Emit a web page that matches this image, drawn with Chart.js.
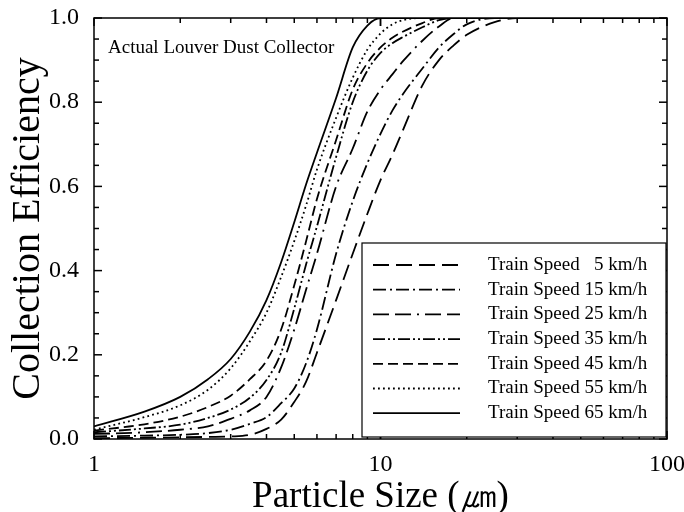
<!DOCTYPE html>
<html>
<head>
<meta charset="utf-8">
<script src="https://cdn.jsdelivr.net/npm/chart.js@4.4.1/dist/chart.umd.min.js"></script>
<style>
    body { margin: 0; background: #fff; }
    #grafico { display: block; }
</style>
</head>
<body>
<canvas id="grafico" width="684" height="512"></canvas>
<script>
// Tamanho de partícula (µm) - eixo x
const tamanhos = [1, 1.5, 2, 2.5, 3, 3.5, 4, 4.5, 5, 5.5, 6, 7, 8, 9, 10, 11, 12, 14, 16, 18, 20, 25, 30, 100];

// Eficiência de coleta por velocidade do trem
const velocidade5  = [0.002, 0.003, 0.004, 0.005, 0.006, 0.010, 0.024, 0.046, 0.088, 0.136, 0.205, 0.330, 0.440, 0.535, 0.615, 0.675, 0.735, 0.840, 0.900, 0.935, 0.960, 0.990, 1, 1];
const velocidade15 = [0.006, 0.008, 0.010, 0.014, 0.022, 0.036, 0.052, 0.085, 0.120, 0.180, 0.260, 0.440, 0.565, 0.655, 0.725, 0.780, 0.820, 0.880, 0.930, 0.962, 0.985, 1, 1, 1];
const velocidade25 = [0.012, 0.016, 0.022, 0.030, 0.048, 0.068, 0.100, 0.170, 0.260, 0.355, 0.440, 0.600, 0.690, 0.778, 0.830, 0.866, 0.898, 0.946, 0.980, 1, 1, 1, 1, 1];
const velocidade35 = [0.016, 0.025, 0.034, 0.050, 0.070, 0.098, 0.140, 0.205, 0.310, 0.415, 0.505, 0.670, 0.800, 0.875, 0.917, 0.940, 0.955, 0.978, 0.995, 1, 1, 1, 1, 1];
const velocidade45 = [0.020, 0.035, 0.053, 0.076, 0.103, 0.142, 0.186, 0.260, 0.365, 0.470, 0.570, 0.710, 0.830, 0.893, 0.930, 0.953, 0.968, 0.988, 1, 1, 1, 1, 1, 1];
const velocidade55 = [0.022, 0.052, 0.080, 0.117, 0.168, 0.232, 0.300, 0.385, 0.470, 0.555, 0.640, 0.763, 0.858, 0.925, 0.963, 0.985, 0.995, 1, 1, 1, 1, 1, 1, 1];
const velocidade65 = [0.030, 0.065, 0.100, 0.142, 0.190, 0.255, 0.330, 0.420, 0.515, 0.605, 0.680, 0.810, 0.930, 0.982, 1, 1, 1, 1, 1, 1, 1, 1, 1, 1];

const legendas = [
    'Train Speed   5 km/h',
    'Train Speed 15 km/h',
    'Train Speed 25 km/h',
    'Train Speed 35 km/h',
    'Train Speed 45 km/h',
    'Train Speed 55 km/h',
    'Train Speed 65 km/h'
];
const tracos = [[16, 7], [13, 4, 2, 4], [16, 6, 16, 6, 2, 6], [12, 3, 2, 3, 2, 3], [10, 5], [1.8, 3.2], []];

const rotulosX = [1, 10, 100];
const rotulosY = [0.0, 0.2, 0.4, 0.6, 0.8, 1.0];
const anotacao = 'Actual Louver Dust Collector';

const fonte = '"Liberation Serif", "Times New Roman", serif';

const series = [velocidade5, velocidade15, velocidade25, velocidade35, velocidade45, velocidade55, velocidade65];

const dados = {
    datasets: series.map((valores, i) => ({
        label: legendas[i],
        data: tamanhos.map((t, j) => ({ x: t, y: valores[j] })),
        borderColor: '#000',
        borderWidth: 1.8,
        borderDash: tracos[i],
        pointRadius: 0,
        fill: false,
        cubicInterpolationMode: 'monotone'
    }))
};

// moldura com marcas internas, legenda e texto
const moldura = {
    id: 'moldura',
    afterDraw(chart) {
        const { ctx, chartArea: a, scales: { x, y } } = chart;
        const linha = (x1, y1, x2, y2) => {
            ctx.beginPath(); ctx.moveTo(x1, y1); ctx.lineTo(x2, y2); ctx.stroke();
        };
        ctx.save();
        ctx.strokeStyle = '#000';
        ctx.lineWidth = 1.5;
        ctx.setLineDash([]);
        ctx.strokeRect(a.left, a.top, a.right - a.left, a.bottom - a.top);

        for (let k = 0; k <= 20; k++) {
            const py = y.getPixelForValue(k * 0.05);
            const len = k % 4 === 0 ? 8 : 5;
            linha(a.left, py, a.left + len, py);
            linha(a.right, py, a.right - len, py);
        }
        for (const dec of [1, 10]) {
            for (let k = 1; k <= 10; k++) {
                const px = x.getPixelForValue(dec * k);
                const len = (k === 1 || k === 10) ? 8 : 5;
                linha(px, a.bottom, px, a.bottom - len);
                linha(px, a.top, px, a.top + len);
            }
        }

        // legenda dentro do gráfico
        const bx = 362, by = 243, bw = 304, bh = 194;
        ctx.fillStyle = '#fff';
        ctx.fillRect(bx, by, bw, bh);
        ctx.lineWidth = 1.2;
        ctx.strokeRect(bx, by, bw, bh);
        ctx.font = '19px ' + fonte;
        ctx.fillStyle = '#000';
        ctx.textBaseline = 'middle';
        chart.data.datasets.forEach((ds, i) => {
            const ly = 265 + i * 24.7;
            ctx.lineWidth = 1.8;
            ctx.setLineDash(ds.borderDash);
            linha(373, ly, 460, ly);
            ctx.setLineDash([]);
            ctx.fillText(ds.label, 488, ly);
        });

        ctx.textBaseline = 'alphabetic';
        ctx.fillText(anotacao, 108, 53);
        ctx.restore();
    }
};

const config = {
    type: 'line',
    data: dados,
    options: {
        responsive: false,
        animation: false,
        devicePixelRatio: 1,
        layout: { padding: { top: 18, right: 17, left: 0, bottom: 0 } },
        scales: {
            x: {
                type: 'logarithmic',
                min: 1,
                max: 100,
                afterFit: s => { s.height = 73; s.paddingLeft = 0; s.paddingRight = 0; },
                grid: { display: false, drawTicks: false },
                border: { display: false },
                ticks: {
                    color: '#000',
                    padding: 11,
                    autoSkip: false,
                    maxRotation: 0,
                    font: { family: fonte, size: 24 },
                    callback: v => rotulosX.includes(v) ? String(v) : ''
                },
                title: {
                    display: true,
                    text: 'Particle Size (㎛)',
                    color: '#000',
                    padding: 0,
                    font: { family: fonte, size: 37, lineHeight: 0.8 }
                }
            },
            y: {
                min: 0,
                max: 1,
                afterFit: s => { s.width = 94; s.paddingTop = 0; s.paddingBottom = 0; },
                grid: { display: false, drawTicks: false },
                border: { display: false },
                ticks: {
                    stepSize: 0.2,
                    color: '#000',
                    padding: 15,
                    autoSkip: false,
                    font: { family: fonte, size: 24 },
                    callback: v => rotulosY.some(r => Math.abs(r - v) < 1e-6) ? v.toFixed(1) : ''
                },
                title: {
                    display: true,
                    text: 'Collection Efficiency',
                    color: '#000',
                    padding: { top: 12, bottom: 0 },
                    font: { family: fonte, size: 40, lineHeight: 0.8 }
                }
            }
        },
        plugins: {
            legend: { display: false },
            tooltip: { enabled: false }
        }
    },
    plugins: [moldura]
};

const ctx = document.getElementById('grafico').getContext('2d');
const chart = new Chart(ctx, config);
</script>
</body>
</html>
